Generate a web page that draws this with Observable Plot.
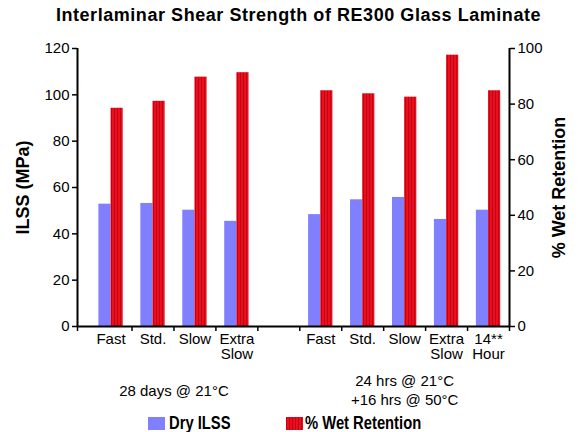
<!DOCTYPE html>
<html>
<head>
<meta charset="utf-8">
<script src="https://cdn.jsdelivr.net/npm/d3@7"></script>
<script src="https://cdn.jsdelivr.net/npm/@observablehq/plot@0.6"></script>
<style>
  html, body { margin: 0; padding: 0; background: #fff; }
  body { width: 578px; height: 432px; overflow: hidden; font-family: "Liberation Sans", Arial, Helvetica, sans-serif; color: #000; }
  #title { width: 578px; height: 32px; line-height: 30px; box-sizing: border-box; padding-left: 19px;
           text-align: center; font-weight: bold; font-size: 18px; letter-spacing: 0.55px; white-space: nowrap; }
  #chart svg { display: block; }
  #legend { position: relative; width: 578px; height: 22px;
            font-family: "Liberation Sans", Arial, sans-serif;
            font-weight: bold; font-size: 18px; }
  .sw { position: absolute; top: 7px; width: 17px; height: 13px; }
  .lt { position: absolute; top: 4px; line-height: 18px; white-space: nowrap; transform: scaleX(0.82); transform-origin: 0 0; }
</style>
</head>
<body>
<div id="title"></div>
<div id="chart"></div>
<div id="legend"></div>
<script>
// ---- data ----
const title = "Interlaminar Shear Strength of RE300 Glass Laminate";
const categories = ["Fast", "Std.", "Slow", "Extra\nSlow", "", "Fast", "Std.", "Slow", "Extra\nSlow", "14**\nHour"];
const dryILSS = [52.8, 53.1, 50.2, 45.4, null, 48.3, 54.7, 55.7, 46.2, 50.2];
const wetRetention = [78.5, 81.0, 89.7, 91.3, null, 84.8, 83.7, 82.5, 97.6, 84.8];
const groupLabels = ["28 days @ 21°C", "24 hrs @ 21°C\n+16 hrs @ 50°C"];
const groupSlots = [[0, 3], [5, 9]];
const leftTicks = [0, 20, 40, 60, 80, 100, 120];
const rightTicks = [0, 20, 40, 60, 80, 100];
const seriesNames = ["Dry ILSS", "% Wet Retention"];
const leftLabel = "ILSS (MPa)";
const rightLabel = "% Wet Retention";

// ---- derived ----
const leftMax = 120, rightMax = 100, k = leftMax / rightMax;
const xDomain = [-0.3, categories.length];
const BW = 0.29;
const blue = "#8080ff";
const rows = categories.map((c, i) => ({i, c, dry: dryILSS[i], wet: wetRetention[i]})).filter(d => d.dry != null);
const groups = groupLabels.map((label, g) => ({label, pos: (groupSlots[g][0] + groupSlots[g][1] + 1) / 2}));

document.getElementById("title").textContent = title;

const chart = Plot.plot({
  width: 578,
  height: 378,
  marginLeft: 77,
  marginRight: 69,
  marginTop: 16,
  marginBottom: 84,
  style: {fontFamily: "'Liberation Sans', Arial, Helvetica, sans-serif", fontSize: "15px", color: "#000", background: "transparent", overflow: "visible"},
  x: {domain: xDomain, axis: null},
  y: {domain: [0, leftMax], axis: null},
  marks: [
    Plot.rectY(rows, {x1: d => d.i + 0.5 - BW, x2: d => d.i + 0.5, y1: 0, y2: "dry", fill: blue}),
    Plot.rectY(rows, {x1: d => d.i + 0.5, x2: d => d.i + 0.5 + BW, y1: 0, y2: d => d.wet * k, fill: "url(#redStripes)"}),
    Plot.axisY({anchor: "left", ticks: leftTicks, tickSize: 5, tickPadding: 3, strokeWidth: 1.5, label: null}),
    Plot.axisY({anchor: "right", ticks: rightTicks.map(v => v * k), tickFormat: v => String(Math.round(v / k)), tickSize: 5, tickPadding: 3, strokeWidth: 1.5, label: null}),
    Plot.axisX({anchor: "bottom", ticks: [xDomain[0], ...d3.range(1, categories.length + 1)], tickFormat: () => "", tickSize: 5, strokeWidth: 1.5, label: null}),
    Plot.axisX({anchor: "bottom", ticks: rows.map(d => d.i + 0.5), tickFormat: v => categories[Math.floor(v)], tickSize: 0, tickPadding: 7, lineHeight: 1, label: null}),
    Plot.ruleX(xDomain, {strokeWidth: 2}),
    Plot.ruleY([0], {strokeWidth: 2}),
    Plot.text(groups, {x: "pos", text: "label", frameAnchor: "bottom", lineAnchor: "middle", textAnchor: "middle", dy: 63, lineHeight: 1.27, fontSize: 15}),
    Plot.text([leftLabel], {frameAnchor: "left", textAnchor: "middle", lineAnchor: "middle", dx: -54, rotate: -90, fontWeight: "bold", fontSize: 18}),
    Plot.text([rightLabel], {frameAnchor: "right", textAnchor: "middle", lineAnchor: "middle", dx: 50, rotate: -90, fontWeight: "bold", fontSize: 18})
  ]
});

// striped red fill pattern
const defs = d3.select(chart).insert("defs", ":first-child");
const pat = defs.append("pattern").attr("id", "redStripes").attr("patternUnits", "userSpaceOnUse").attr("width", 3).attr("height", 10);
pat.append("rect").attr("width", 3).attr("height", 10).attr("fill", "#e8101c");
pat.append("rect").attr("width", 1).attr("height", 10).attr("fill", "#c20018");

document.getElementById("chart").appendChild(chart);

// legend
const legend = document.getElementById("legend");
const items = [
  {name: seriesNames[0], bg: blue, sx: 148, tx: 169},
  {name: seriesNames[1], bg: "repeating-linear-gradient(90deg, #c20018 0 1px, #e8101c 1px 3px)", sx: 286, tx: 305}
];
for (const it of items) {
  const s = document.createElement("div");
  s.className = "sw"; s.style.left = it.sx + "px"; s.style.background = it.bg;
  const t = document.createElement("div");
  t.className = "lt"; t.style.left = it.tx + "px"; t.textContent = it.name;
  legend.appendChild(s); legend.appendChild(t);
}
</script>
</body>
</html>
